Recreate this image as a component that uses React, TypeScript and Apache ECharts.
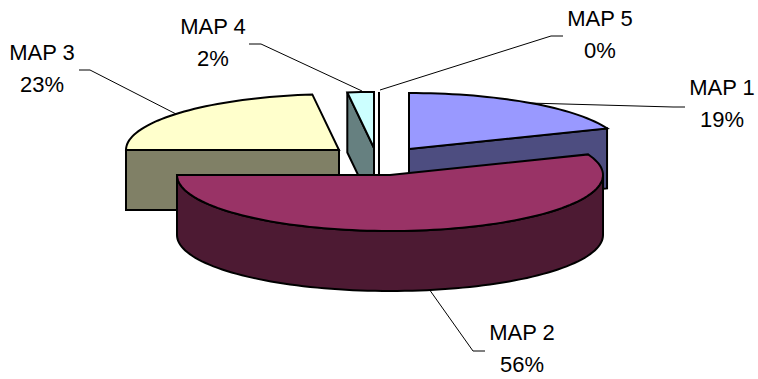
import React, { useEffect, useRef } from "react";
import * as echarts from "echarts";

// Slice names and shares, in pie order (clockwise from 12 o'clock).
const categories = ["MAP 1", "MAP 2", "MAP 3", "MAP 4", "MAP 5"];
const shares = [19, 56, 23, 2, 0];
const percentLabels = ["19%", "56%", "23%", "2%", "0%"];

// Back-to-front painting order of the exploded slices.
const paintOrder = [2, 3, 4, 0, 1];

const topColors = ["#9999FF", "#993366", "#FFFFCC", "#CCFFFF", "#660066"];
const sideColors = ["#4D4D80", "#4D1A33", "#808066", "#668080", "#330033"];

// Ellipse of the tilted pie and the thickness of the disc.
const RX = 213;
const RY = 56;
const DEPTH = 60;

// Pivot of each slice after it has been pulled away from the centre.
const pivots = [
  [409, 149],
  [390, 175],
  [339, 150],
  [374, 148],
  [379, 148],
];

// Text block centre x and vertical middle of each label's first line.
const labelAnchors = [
  [722, 87],
  [522, 332],
  [42, 52],
  [213, 26],
  [600, 18],
];

// Leader line from label to slice rim.
const leaders = [
  [[685, 107], [673, 107], [528, 103]],
  [[485, 351], [473, 351], [429, 289]],
  [[79, 70], [90, 70], [178, 115]],
  [[249, 44], [261, 44], [362, 91]],
  [[563, 36], [551, 36], [380, 90]],
];

const FONT = '22px "Liberation Sans", Arial, sans-serif';
const EDGE = { stroke: "#000", lineWidth: 2, lineJoin: "miter" as const };

const rad = (d: number) => (d * Math.PI) / 180;
const total = shares.reduce((a, b) => a + b, 0);

// Start and end angle of a slice, in degrees clockwise from the top.
function sweep(i: number): [number, number] {
  const before = shares.slice(0, i).reduce((a, b) => a + b, 0);
  return [(before / total) * 360, ((before + shares[i]) / total) * 360];
}

function rim(cx: number, cy: number, deg: number): number[] {
  return [cx + RX * Math.sin(rad(deg)), cy - RY * Math.cos(rad(deg))];
}

function arc(cx: number, cy: number, a: number, b: number): number[][] {
  const n = Math.max(1, Math.ceil(Math.abs(b - a) / 2));
  const out: number[][] = [];
  for (let k = 0; k <= n; k++) out.push(rim(cx, cy, a + ((b - a) * k) / n));
  return out;
}

const drop = (pts: number[][]) => pts.map(([x, y]) => [x, y + DEPTH]);

const face = (points: number[][], fill: string) => ({
  type: "polygon",
  shape: { points },
  style: { fill, ...EDGE },
});

function renderSlice(_params: unknown, api: any) {
  const i = api.value(0) as number;
  const [cx, cy] = pivots[i];
  const [a, b] = sweep(i);
  const apex = [cx, cy];
  const top = topColors[i];
  const side = sideColors[i];
  const children: any[] = [];

  // Front-facing rim wall (angles between 90 and 270 degrees).
  const wa = Math.max(a, 90);
  const wb = Math.min(b, 270);
  if (wb > wa) {
    const upper = arc(cx, cy, wa, wb);
    children.push(face([...upper, ...drop(upper).reverse()], side));
  }

  // Cut faces that look towards the viewer.
  const cut = (deg: number) => {
    const p = rim(cx, cy, deg);
    children.push(face([apex, p, ...drop([p, apex])], side));
  };
  if (b <= 180) cut(b);
  if (a >= 180) cut(a);

  // Top surface.
  children.push(face([apex, ...arc(cx, cy, a, b)], top));

  return { type: "group", children };
}

function renderLabel(_params: unknown, api: any) {
  const i = api.value(0) as number;
  const [x, y] = labelAnchors[i];
  const text = (t: string, my: number) => ({
    type: "text",
    style: {
      x,
      y: my,
      text: t,
      font: FONT,
      fill: "#000",
      align: "center",
      verticalAlign: "middle",
    },
  });
  return {
    type: "group",
    children: [
      {
        type: "polyline",
        shape: { points: leaders[i] },
        style: { stroke: "#000", lineWidth: 1, fill: "none" },
      },
      text(categories[i], y),
      text(percentLabels[i], y + 32),
    ],
  };
}

export default function App() {
  const ref = useRef<HTMLDivElement>(null);
  useEffect(() => {
    document.body.style.margin = "0";
    const chart = echarts.init(ref.current!, undefined, { renderer: "svg" });
    chart.setOption({
      animation: false,
      backgroundColor: "#fff",
      series: [
        {
          type: "custom",
          coordinateSystem: "none",
          silent: true,
          z: 1,
          data: categories.map((_, i) => [i]),
          renderItem: renderLabel,
        },
        {
          type: "custom",
          coordinateSystem: "none",
          silent: true,
          z: 2,
          data: paintOrder.map((i) => [i]),
          renderItem: renderSlice,
        },
      ],
    });
    return () => chart.dispose();
  }, []);
  return <div ref={ref} style={{ width: 758, height: 379 }} />;
}
